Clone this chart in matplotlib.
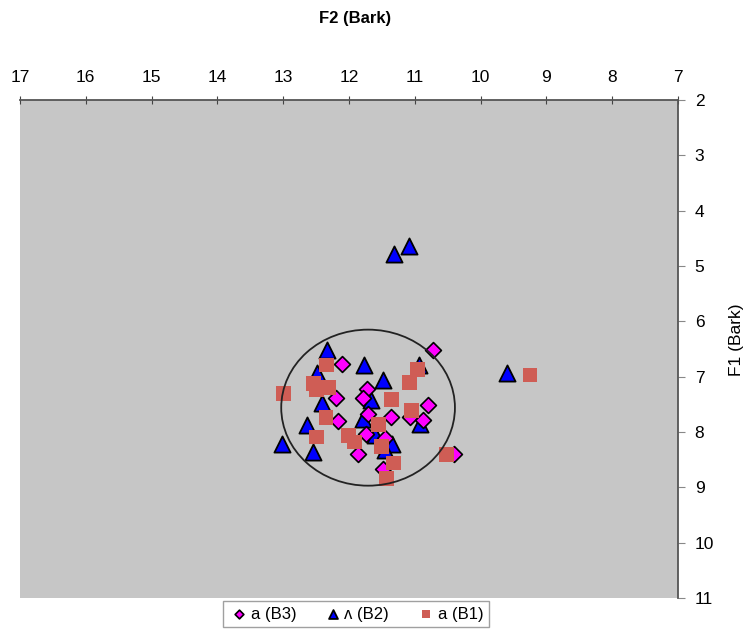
import matplotlib
matplotlib.use("Agg")
import matplotlib.pyplot as plt
from matplotlib.patches import Ellipse

plt.rcParams['font.family'] = ['Liberation Sans', 'DejaVu Sans']

# F2 (x) and F1 (y) values in Bark
b3_f2 = [10.72, 12.10, 11.72, 11.78, 12.20, 10.80, 12.16, 11.36, 11.71, 11.08,
         10.87, 11.74, 11.86, 10.41, 11.48, 11.45]
b3_f1 = [6.52, 6.77, 7.23, 7.39, 7.39, 7.52, 7.80, 7.73, 7.67, 7.73,
         7.79, 8.04, 8.40, 8.39, 8.66, 8.10]

b2_f2 = [11.32, 11.09, 9.60, 12.34, 11.77, 11.48, 12.48, 12.41, 11.66, 11.79,
         12.64, 10.92, 11.60, 11.35, 13.02, 12.54, 11.45, 10.94]
b2_f1 = [4.78, 4.64, 6.94, 6.52, 6.79, 7.06, 6.93, 7.48, 7.42, 7.76,
         7.88, 7.85, 8.06, 8.21, 8.21, 8.36, 8.33, 6.79]

b1_f2 = [9.25, 12.34, 12.54, 12.49, 12.31, 13.00, 11.08, 10.96, 11.35, 11.05,
         12.35, 11.55, 12.50, 12.01, 11.91, 11.50, 11.32, 11.43, 10.52]
b1_f1 = [6.97, 6.79, 7.12, 7.24, 7.19, 7.30, 7.11, 6.87, 7.41, 7.61,
         7.73, 7.86, 8.09, 8.06, 8.18, 8.27, 8.56, 8.84, 8.40]

ellipse_center = (11.71, 7.56)
ellipse_w, ellipse_h = 2.64, 2.82

fig = plt.figure(figsize=(7.52, 6.36), dpi=100)
ax = fig.add_axes([20 / 752, 1 - 598 / 636, 658 / 752, 498 / 636])
ax.set_facecolor('#c6c6c6')

tri = ax.scatter(b2_f2, b2_f1, marker='^', s=135, c='#0000ff', edgecolors='black', linewidths=1.3, zorder=3)
dia = ax.scatter(b3_f2, b3_f1, marker='D', s=65, c='#ff00ff', edgecolors='black', linewidths=1.2, zorder=4)
sq = ax.scatter(b1_f2, b1_f1, marker='s', s=115, c='#cf5d55', edgecolors='none', linewidths=0, zorder=5)

ax.add_patch(Ellipse(ellipse_center, ellipse_w, ellipse_h, fill=False, edgecolor='#222222', lw=1.3, zorder=6))

ax.set_xlim(17, 7)
ax.set_ylim(11, 2)
ax.set_xticks(range(17, 6, -1))
ax.set_yticks(range(2, 12))
ax.xaxis.tick_top()
ax.yaxis.tick_right()
ax.tick_params(axis='x', direction='inout', length=6, labelsize=12.5, pad=8, color='#444444')
ax.tick_params(axis='y', direction='out', length=5, labelsize=12.5, pad=7, color='#888888')
for s in ['left', 'bottom']:
    ax.spines[s].set_visible(False)
for s in ['top', 'right']:
    ax.spines[s].set_color('#555555')
    ax.spines[s].set_linewidth(1.3)

fig.text(355 / 752, 1 - 18 / 636, 'F2 (Bark)', ha='center', va='center', fontsize=12, fontweight='bold')
fig.text(737 / 752, 1 - 340 / 636, 'F1 (Bark)', ha='center', va='center', rotation=90, fontsize=12.5)

leg = fig.legend([dia, tri, sq], ['a (B3)', '\u028c (B2)', 'a (B1)'], loc='center',
                 bbox_to_anchor=(356 / 752, 1 - 614 / 636), ncol=3, frameon=True, fancybox=False,
                 fontsize=12, handletextpad=0.1, columnspacing=1.6, borderpad=0.35,
                 markerscale=0.55, handlelength=1.2)
leg.get_frame().set_edgecolor('#888888')
leg.get_frame().set_linewidth(1.0)

fig.savefig('out.png', dpi=100)
